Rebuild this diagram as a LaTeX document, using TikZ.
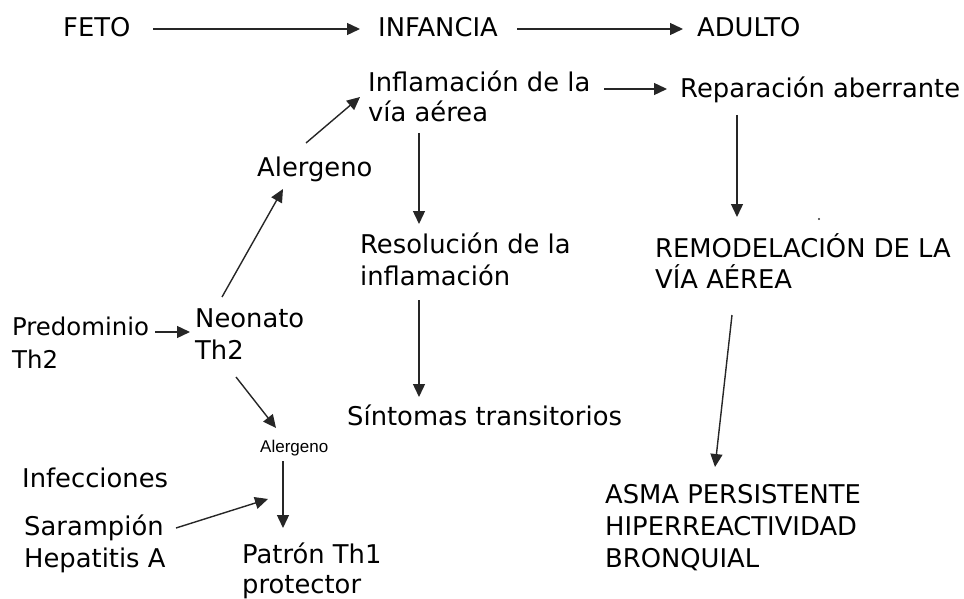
\documentclass[tikz,border=0pt]{standalone}
\usepackage{fontspec}
\setmainfont{DejaVu Sans}
\newfontfamily\smallfont{Liberation Sans}
\usetikzlibrary{arrows.meta}
\begin{document}
\begin{tikzpicture}[x=1pt,y=-1pt,
  lbl/.style={anchor=base west, inner sep=0pt, align=left, font=\fontsize{25.8}{32}\selectfont},
  smalllbl/.style={anchor=base west, inner sep=0pt, font=\smallfont\fontsize{17}{20}\selectfont},
  arr/.style={-{Triangle[length=13pt,width=12pt]}, line width=1.4pt, draw=black!85}]
\useasboundingbox (0,0) rectangle (964,599);
% nodes (multi-line nodes are placed by the baseline of their last line)
\node[lbl] (feto) at (63,37) {FETO};
\node[lbl] (infancia) at (378,37) {INFANCIA};
\node[lbl] (adulto) at (697,37) {ADULTO};
\node[lbl, font=\fontsize{25.8}{30}\selectfont] (inflam) at (368,122) {Inflamación de la\\vía aérea};
\node[lbl] (repar) at (680,98) {Reparación aberrante};
\node[lbl] (alerg1) at (257,177) {Alergeno};
\node[lbl] (resol) at (360,285) {Resolución de la\\inflamación};
\node[lbl, font=\fontsize{25.8}{31}\selectfont] (remod) at (655,288) {REMODELACIÓN DE LA\\VÍA AÉREA};
\node[lbl, font=\fontsize{24.4}{33}\selectfont] (predom) at (12,368) {Predominio\\Th2};
\node[lbl] (neonato) at (195,359) {Neonato\\Th2};
\node[lbl] (sintomas) at (347,425) {Síntomas transitorios};
\node[smalllbl] (alerg2) at (260,452) {Alergeno};
\node[lbl] (infec) at (22,487) {Infecciones};
\node[lbl] (saramp) at (24,567) {Sarampión\\Hepatitis A};
\node[lbl, font=\fontsize{25.8}{30}\selectfont] (patron) at (242,593) {Patrón Th1\\protector};
\node[lbl] (asma) at (605,567) {ASMA PERSISTENTE\\HIPERREACTIVIDAD\\BRONQUIAL};
% connector end points
\coordinate (feto-o) at (153,29);
\coordinate (infancia-i) at (360,29);
\coordinate (infancia-o) at (517,29);
\coordinate (adulto-i) at (683,29);
\coordinate (inflam-o) at (604,89);
\coordinate (repar-i) at (667,89);
\coordinate (repar-o) at (737,115);
\coordinate (remod-i) at (737,217);
\coordinate (inflam-d) at (419,133);
\coordinate (resol-i) at (419,224);
\coordinate (resol-o) at (419,300);
\coordinate (sintomas-i) at (419,397);
\coordinate (alerg1-o) at (306,143);
\coordinate (inflam-i) at (360,97);
\coordinate (neonato-u) at (222,297);
\coordinate (alerg1-i) at (283,189);
\coordinate (predom-o) at (155,332);
\coordinate (neonato-i) at (190,332);
\coordinate (neonato-d) at (236,377);
\coordinate (alerg2-i) at (276,428);
\coordinate (alerg2-o) at (283,461);
\coordinate (patron-i) at (283,528);
\coordinate (saramp-o) at (176,528);
\coordinate (infec-t) at (268,499);
\coordinate (remod-o) at (732,315);
\coordinate (asma-i) at (715,467);
% connectors
\draw[arr] (feto-o) -- (infancia-i);
\draw[arr] (infancia-o) -- (adulto-i);
\draw[arr] (inflam-o) -- (repar-i);
\draw[arr] (repar-o) -- (remod-i);
\draw[arr] (inflam-d) -- (resol-i);
\draw[arr] (resol-o) -- (sintomas-i);
\draw[arr] (alerg1-o) -- (inflam-i);
\draw[arr] (neonato-u) -- (alerg1-i);
\draw[arr] (predom-o) -- (neonato-i);
\draw[arr] (neonato-d) -- (alerg2-i);
\draw[arr] (alerg2-o) -- (patron-i);
\draw[arr] (saramp-o) -- (infec-t);
\draw[arr] (remod-o) -- (asma-i);
% stray dot
\fill[black!80] (819,219) circle (1.1);
\end{tikzpicture}
\end{document}
